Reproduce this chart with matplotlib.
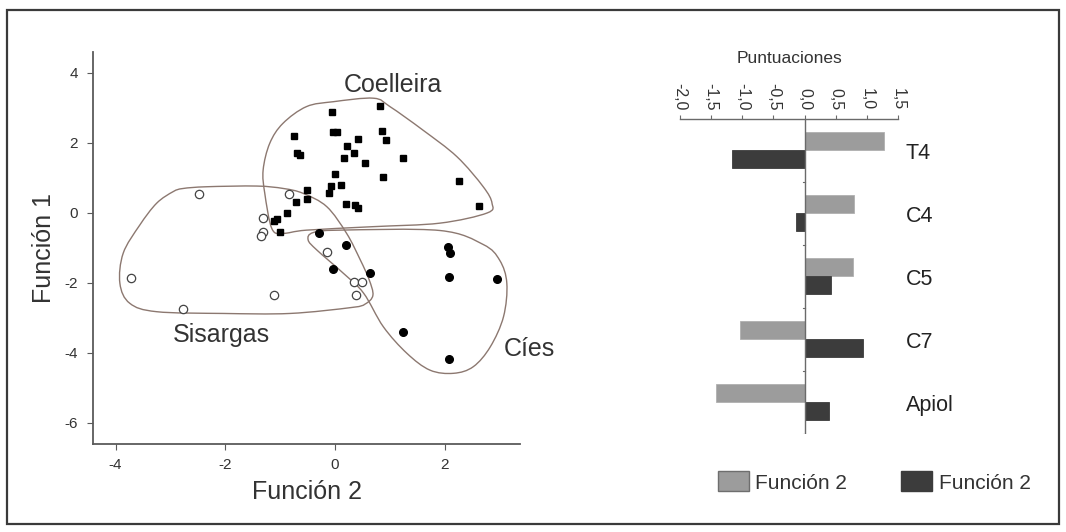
import matplotlib
matplotlib.use("Agg")
import matplotlib.pyplot as plt
import numpy as np
from matplotlib.path import Path
from matplotlib.patches import PathPatch, Patch, Rectangle

plt.rcParams['font.family'] = ['Liberation Sans', 'DejaVu Sans']
plt.rcParams['axes.unicode_minus'] = False

# Puntuaciones discriminantes (Función 2, Función 1) por isla
coelleira_x = [0.82, -0.05, -0.04, 0.04, -0.75, 0.85, 0.92, 0.41, 0.22, -0.70, -0.64,
               0.35, 0.17, 0.54, 1.24, 0.00, 0.88, -0.08, 0.10, -0.11, 2.25, 2.63,
               -0.52, -0.52, -0.71, 0.20, 0.36, 0.42, -0.87, -1.12, -1.06, -1.00]
coelleira_y = [3.07, 2.88, 2.32, 2.32, 2.21, 2.34, 2.08, 2.11, 1.91, 1.72, 1.66,
               1.71, 1.57, 1.42, 1.57, 1.11, 1.03, 0.78, 0.80, 0.57, 0.92, 0.19,
               0.67, 0.40, 0.31, 0.26, 0.23, 0.15, 0.01, -0.24, -0.16, -0.53]

cies_x = [-0.29, 0.20, 2.05, 2.10, -0.03, 0.63, 2.07, 2.96, 1.23, 2.08]
cies_y = [-0.57, -0.92, -0.96, -1.13, -1.61, -1.71, -1.82, -1.88, -3.40, -4.18]

sisargas_x = [-2.48, -0.84, -1.32, -1.31, -1.35, -0.14, -3.71, -1.11, -2.77, 0.35, 0.50, 0.38]
sisargas_y = [0.53, 0.53, -0.13, -0.53, -0.66, -1.10, -1.85, -2.34, -2.75, -1.97, -1.97, -2.34]

# contornos de cada grupo
coelleira_hull = [(0.7, 3.28), (1.0, 3.04), (1.6, 2.37), (2.22, 1.61), (2.70, 0.75),
                  (2.86, 0.28), (2.77, 0.0), (1.91, -0.29), (0.7, -0.39), (-0.52, -0.49),
                  (-0.94, -0.58), (-1.15, -0.45), (-1.28, 0.56), (-1.31, 1.23),
                  (-1.19, 1.99), (-0.95, 2.56), (-0.52, 3.04), (-0.03, 3.18)]
cies_hull = [(-0.40, -0.56), (0.09, -0.49), (1.91, -0.50), (2.70, -0.90), (3.00, -1.35),
             (3.13, -2.01), (3.07, -2.96), (2.83, -3.82), (2.52, -4.39), (2.16, -4.58),
             (1.73, -4.49), (1.31, -4.01), (0.88, -3.25), (0.52, -2.29), (0.15, -1.72),
             (-0.33, -1.06), (-0.49, -0.77)]
sisargas_hull = [(-2.77, 0.70), (-2.34, 0.75), (-1.43, 0.77), (-0.94, 0.70), (-0.58, 0.56),
                 (-0.15, 0.18), (0.21, -0.58), (0.46, -1.34), (0.62, -1.90), (0.69, -2.35),
                 (0.55, -2.60), (0.30, -2.70), (-0.82, -2.87), (-2.04, -2.87), (-3.25, -2.82),
                 (-3.74, -2.58), (-3.92, -2.01), (-3.86, -1.15), (-3.56, -0.35), (-3.25, 0.28),
                 (-2.95, 0.61)]

# pesos de las variables
variables = ['T4', 'C4', 'C5', 'C7', 'Apiol']
funcion_a = [1.28, 0.80, 0.77, -1.03, -1.43]
funcion_b = [-1.16, -0.14, 0.43, 0.94, 0.39]


def closed_curve(pts):
    # curva cerrada suave (Catmull-Rom -> Bezier cúbica)
    p = np.array(pts, dtype=float)
    n = len(p)
    verts = [p[0]]
    codes = [Path.MOVETO]
    for i in range(n):
        p0, p1, p2, p3 = p[i - 1], p[i], p[(i + 1) % n], p[(i + 2) % n]
        verts += [p1 + (p2 - p0) / 6, p2 - (p3 - p1) / 6, p2]
        codes += [Path.CURVE4] * 3
    return Path(verts, codes)


fig = plt.figure(figsize=(10.66, 5.32), dpi=100)
fig.patches.append(Rectangle((7 / 1066, 1 - 524 / 532), 1052 / 1066, 514 / 532,
                             transform=fig.transFigure, fill=False,
                             edgecolor='#3a3a3a', linewidth=1.6))

# ---- diagrama de dispersión ----
ax = fig.add_axes([93 / 1066, 1 - 444 / 532, 427 / 1066, 392 / 532])
outline = '#8c7870'
for hull in (coelleira_hull, cies_hull, sisargas_hull):
    ax.add_patch(PathPatch(closed_curve(hull), fill=False, edgecolor=outline, linewidth=1.0))

ax.plot(coelleira_x, coelleira_y, 's', color='black', markersize=5, linestyle='none')
ax.plot(cies_x, cies_y, 'o', color='black', markersize=5.5, linestyle='none')
ax.plot(sisargas_x, sisargas_y, 'o', markerfacecolor='white', markeredgecolor='#444444',
        markeredgewidth=0.9, markersize=6, linestyle='none')

ax.text(1.06, 3.66, 'Coelleira', fontsize=18, color='#333333', ha='center', va='center')
ax.text(-2.07, -3.49, 'Sisargas', fontsize=18, color='#333333', ha='center', va='center')
ax.text(3.07, -3.88, 'Cíes', fontsize=18, color='#333333', ha='left', va='center')

ax.set_xlim(-4.41, 3.37)
ax.set_ylim(-6.6, 4.6)
ax.set_xticks([-4, -2, 0, 2])
ax.set_yticks([-6, -4, -2, 0, 2, 4])
ax.spines['top'].set_visible(False)
ax.spines['right'].set_visible(False)
for s in ('left', 'bottom'):
    ax.spines[s].set_color('#5a5a5a')
    ax.spines[s].set_linewidth(1.3)
ax.tick_params(colors='#5a5a5a', labelcolor='#333333', labelsize=11, length=4)
ax.tick_params(axis='y', pad=7)
ax.tick_params(axis='x', pad=6)
ax.set_xlabel('Función 2', fontsize=18, color='#333333', labelpad=6)
ax.set_ylabel('Función 1', fontsize=18, color='#333333', labelpad=6)

# ---- barras de puntuaciones ----
bx = fig.add_axes([680 / 1066, 1 - 433.5 / 532, 218 / 1066, 315 / 532])
pos = np.arange(len(variables))
h = 0.29
bx.barh(pos - h / 2, funcion_a, height=h, color='#9c9c9c', edgecolor='#b0b0b0', linewidth=0.6)
bx.barh(pos + h / 2, funcion_b, height=h, color='#3c3c3c', edgecolor='#3c3c3c', linewidth=0.6)
bx.set_xlim(-2.0, 1.5)
bx.set_ylim(len(variables) - 0.5, -0.5)
bx.axvline(0, color='#6a6a6a', linewidth=1.0)
for yb in pos + 0.5:
    bx.plot([-0.03, 0], [yb, yb], color='#6a6a6a', linewidth=0.8)
for i, v in enumerate(variables):
    bx.text(1.62, i + 0.06, v, fontsize=15.5, color='#222222', ha='left', va='center')

ticks = [-2.0, -1.5, -1.0, -0.5, 0.0, 0.5, 1.0, 1.5]
bx.xaxis.tick_top()
bx.set_xticks(ticks)
bx.set_xticklabels([f'{t:.1f}'.replace('.', ',') for t in ticks], rotation=-90,
                   fontsize=11.5, color='#333333')
bx.tick_params(axis='x', colors='#6a6a6a', labelcolor='#333333', length=3, pad=3)
bx.set_yticks([])
for s in ('left', 'right', 'bottom'):
    bx.spines[s].set_visible(False)
bx.spines['top'].set_color('#6a6a6a')
bx.spines['top'].set_linewidth(1.0)
bx.set_title('Puntuaciones', fontsize=12.5, color='#333333', pad=40)

handles = [Patch(facecolor='#9c9c9c', edgecolor='#6e6e6e', label='Función 2'),
           Patch(facecolor='#3c3c3c', edgecolor='#3c3c3c', label='Función 2')]
fig.legend(handles=handles, loc='center', bbox_to_anchor=(874 / 1066, 1 - 482 / 532),
           ncol=2, frameon=False, fontsize=15, handlelength=1.5, handleheight=1.1,
           handletextpad=0.3, columnspacing=2.6, labelcolor='#333333')

fig.savefig('out.png', dpi=100)
